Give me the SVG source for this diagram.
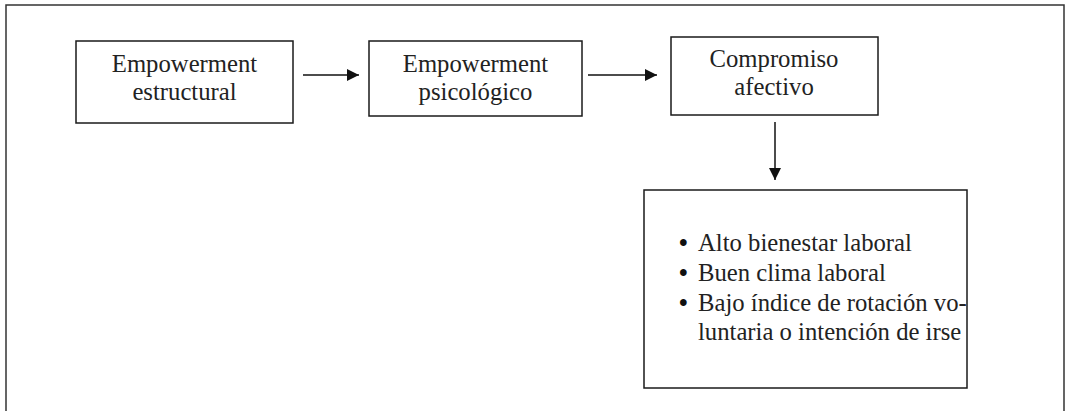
<svg xmlns="http://www.w3.org/2000/svg" width="1066" height="411" viewBox="0 0 1066 411">
<style>
.box{fill:#fff;stroke:#1a1a1a;stroke-width:1.5}
.t{font-family:"Liberation Serif","Times New Roman",serif;font-size:24.7px;fill:#222}
.b{font-weight:bold;fill:#111}
.c{text-anchor:middle}
.ln{stroke:#111;stroke-width:1.5;fill:none}
</style>
<defs>
<marker id="ah" markerWidth="12" markerHeight="12" refX="12" refY="6" orient="auto" markerUnits="userSpaceOnUse">
<path d="M0,0 L12,6 L0,12 Z" fill="#111"/>
</marker>
</defs>
<rect width="1066" height="411" fill="#fff"/>
<path id="frame" d="M6,420 V5 H1064 V420" fill="none" stroke="#333" stroke-width="1.5"/>
<g id="n1">
<rect class="box" x="76" y="41" width="217" height="82"/>
<text class="t c" x="184.5" y="72">Empowerment</text>
<text class="t c" x="184.5" y="100">estructural</text>
</g>
<g id="n2">
<rect class="box" x="369" y="41" width="213" height="75"/>
<text class="t c" x="475.5" y="72">Empowerment</text>
<text class="t c" x="475.5" y="100">psicológico</text>
</g>
<g id="n3">
<rect class="box" x="671" y="37" width="207" height="78"/>
<text class="t c" x="774" y="67">Compromiso</text>
<text class="t c" x="774" y="95">afectivo</text>
</g>
<g id="n4">
<rect class="box" x="644" y="190" width="323" height="198"/>
<text class="t" y="251"><tspan class="b" x="679">•</tspan><tspan x="698">Alto bienestar laboral</tspan></text>
<text class="t" y="281"><tspan class="b" x="679">•</tspan><tspan x="698">Buen clima laboral</tspan></text>
<text class="t" y="311"><tspan class="b" x="679">•</tspan><tspan x="698">Bajo índice de rotación vo-</tspan></text>
<text class="t" x="698" y="340">luntaria o intención de irse</text>
</g>
<g id="connectors">
<line class="ln" x1="303" y1="75" x2="359" y2="75" marker-end="url(#ah)"/>
<line class="ln" x1="588" y1="75" x2="657" y2="75" marker-end="url(#ah)"/>
<line class="ln" x1="775" y1="122" x2="775" y2="180" marker-end="url(#ah)"/>
</g>
</svg>
